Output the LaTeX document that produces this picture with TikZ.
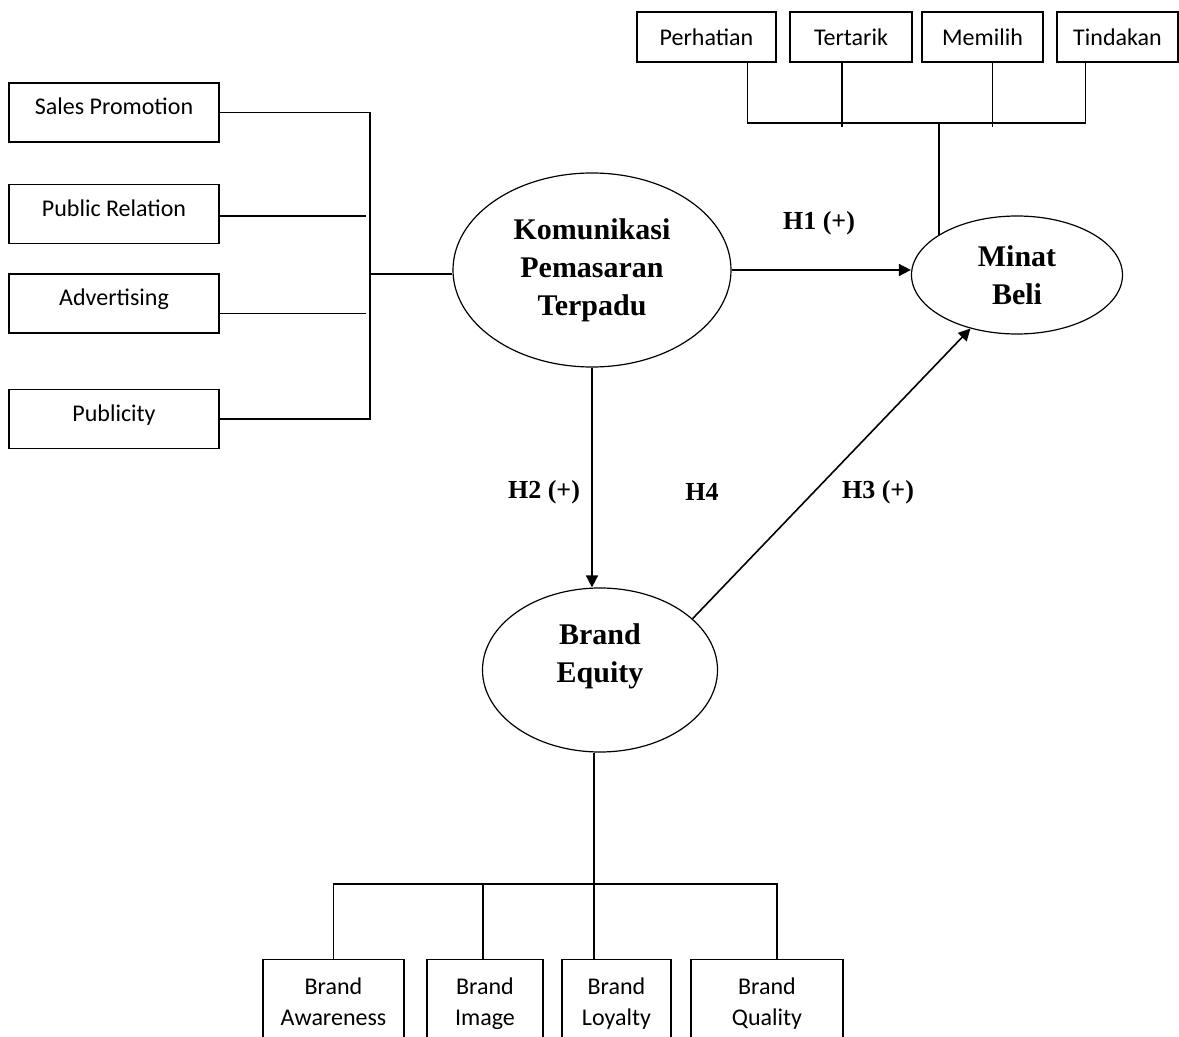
\documentclass[tikz,border=0pt]{standalone}
\usepackage{fontspec}
\setmainfont{Liberation Serif}
\newfontfamily\boxfont{Carlito}
\usetikzlibrary{shapes.geometric,arrows.meta}

\begin{document}
\begin{tikzpicture}[x=0.5pt,y=-0.5pt,
        ind/.style={draw, rectangle, line width=0.6pt, inner sep=0pt, align=center,
            font=\boxfont\fontsize{12}{15.5}\selectfont},
        dim/.style={ind, minimum width=105pt, minimum height=29.5pt, text height=8.5pt, text depth=6pt},
        var/.style={draw, ellipse, line width=0.6pt, inner sep=0pt, align=center,
            font=\bfseries\fontsize{15}{19}\selectfont},
        hyp/.style={font=\bfseries\fontsize{13}{15}\selectfont},
        link/.style={line width=0.8pt},
        arr/.style={line width=0.8pt, -{Triangle[length=6pt,width=6pt]}}]
        \clip (0,0) rectangle (1179,1037);

        % Variables
        % Define the nodes
        \node[var, minimum width=139pt, minimum height=97pt] (kpt) at (592,270) {Komunikasi\\Pemasaran\\Terpadu};
        \node[var, minimum width=105.5pt, minimum height=59pt] (mb) at (1017,275) {Minat\\Beli};
        \node[var, minimum width=117.5pt, minimum height=82pt] (be) at (600,670) {Brand\\Equity\\[-2.5pt]\mbox{}};

        % Komunikasi Pemasaran Terpadu
        % Define the nodes
        \node[dim] (sp) at (114,112.5) {Sales Promotion};
        \node[dim] (pr) at (114,214) {Public Relation};
        \node[dim] (adv) at (114,303.5) {Advertising};
        \node[dim] (pub) at (114,419) {Publicity};
        % Connect the nodes
        \coordinate (jn) at (370,274);
        \draw[link] (sp.east) -| (jn |- pub.east) -- (pub.east);
        \draw[link] ([yshift=-1pt]pr.east) -- ([xshift=-2pt,yshift=-1pt]jn |- pr.east);
        \draw[link] ([yshift=-5pt]adv.east) -- ([xshift=-2pt,yshift=-5pt]jn |- adv.east);
        \draw[link] (jn) -- (jn -| kpt.west);

        % Minat Beli
        % Define the nodes
        \node[ind, minimum width=69.5pt, minimum height=25pt] (per) at (706.5,37) {Perhatian};
        \node[ind, minimum width=61pt, minimum height=25pt] (ter) at (851,37) {Tertarik};
        \node[ind, minimum width=60.5pt, minimum height=25pt] (mem) at (982.5,37) {Memilih};
        \node[ind, minimum width=60.5pt, minimum height=25pt] (tin) at (1117.5,37) {Tindakan};
        % Connect the nodes
        \coordinate (mj) at (939,123);
        \draw[link] ([xshift=-14.5pt]per.south east) |- (mj) -| ([xshift=-16pt]tin.south);
        \draw[link] ([xshift=-4.5pt]ter.south) -- ([xshift=-4.5pt,yshift=-2pt]ter.south |- mj);
        \draw[link] ([xshift=5pt]mem.south) -- ([xshift=5pt,yshift=-2pt]mem.south |- mj);
        \draw[link] (mj) -- (mj |- mb.153);

        % Brand Equity
        % Define the nodes
        \node[ind, anchor=north, minimum width=70.5pt, minimum height=44pt] (aw) at (333.5,959) {Brand\\Awareness\vphantom{y}};
        \node[ind, anchor=north, minimum width=58pt, minimum height=44pt] (img) at (485,959) {Brand\\Image};
        \node[ind, anchor=north, minimum width=54.5pt, minimum height=44pt] (loy) at (616.5,959) {Brand\\Loyalty};
        \node[ind, anchor=north, minimum width=76pt, minimum height=44pt] (qual) at (767,959) {Brand\\Quality};
        % Connect the nodes
        \coordinate (bj) at (594,884);
        \draw[link] (bj |- be.south) -- (bj |- loy.north);
        \draw[link] (aw.north) |- (bj) -| ([xshift=5pt]qual.north);
        \draw[link] ([xshift=-1pt]img.north) -- ([xshift=-1pt]img.north |- bj);

        % Hypotheses
        \draw[arr] (kpt.east) -- (kpt.east -| mb.west);
        \draw[arr] (kpt.south) -- (kpt.south |- be.north);
        \draw[arr] (be.29) -- (mb.229);
        \node[hyp] (h1) at (819,223) {H1 (+)};
        \node[hyp] (h2) at (544,492) {H2 (+)};
        \node[hyp] (h4) at (702,492) {H4};
        \node[hyp] (h3) at (878,492) {H3 (+)};
    \end{tikzpicture}
\end{document}
